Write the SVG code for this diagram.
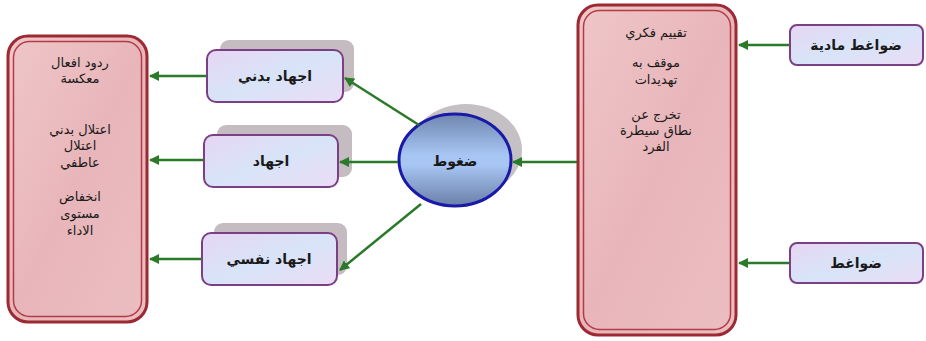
<svg xmlns="http://www.w3.org/2000/svg" width="926" height="341" viewBox="0 0 926 341">
<defs>
<style>
.big-o{fill:url(#pink);stroke:#9c2a32;stroke-width:3}
.big-i{fill:none;stroke:#b23c46;stroke-width:1.5}
.box{fill:url(#lav);stroke:#7b3f86;stroke-width:2}
.shadow{fill:#c4bcc0}
.t{font-family:"DejaVu Sans",sans-serif;fill:#1a1a1a;text-anchor:middle}
.tb{font-size:14px;font-weight:bold}
.ts{font-size:13px}
.conn{stroke:#2a7a2a;stroke-width:2.5;fill:none;marker-end:url(#ah)}
</style>
<linearGradient id="pink" x1="0" y1="0" x2="1" y2="1">
<stop offset="0" stop-color="#efc6c9"/>
<stop offset="0.5" stop-color="#e8b6ba"/>
<stop offset="1" stop-color="#ebbdc1"/>
</linearGradient>
<linearGradient id="lav" x1="0" y1="0" x2="1" y2="1">
<stop offset="0" stop-color="#e6d6f4"/>
<stop offset="0.5" stop-color="#d8e4f8"/>
<stop offset="1" stop-color="#eadcf6"/>
</linearGradient>
<linearGradient id="blue" x1="0" y1="0" x2="0" y2="1">
<stop offset="0" stop-color="#6f86b0"/>
<stop offset="0.45" stop-color="#a8c6f4"/>
<stop offset="0.55" stop-color="#a8c6f4"/>
<stop offset="1" stop-color="#6a7fa8"/>
</linearGradient>
<marker id="ah" viewBox="0 0 10 10" refX="9" refY="5" markerWidth="4" markerHeight="4" orient="auto">
<path d="M0,0 L10,5 L0,10 z" fill="#2a7a2a"/>
</marker>
</defs>

<g id="left-box">
<rect class="big-o" x="8" y="36" width="139" height="286" rx="20"/>
<rect class="big-i" x="13.5" y="41.5" width="128" height="275" rx="16"/>
<text class="t ts" x="80" y="67">ردود افعال</text>
<text class="t ts" x="80" y="83">معكسة</text>
<text class="t ts" x="80" y="134">اعتلال بدني</text>
<text class="t ts" x="80" y="150">اعتلال</text>
<text class="t ts" x="80" y="167">عاطفي</text>
<text class="t ts" x="80" y="201">انخفاض</text>
<text class="t ts" x="80" y="218">مستوى</text>
<text class="t ts" x="80" y="235">الاداء</text>
</g>

<g id="right-box">
<rect class="big-o" x="578" y="5" width="158" height="330" rx="20"/>
<rect class="big-i" x="583.5" y="10.5" width="147" height="319" rx="16"/>
<text class="t ts" x="656" y="37">تقييم فكري</text>
<text class="t ts" x="656" y="67">موقف به</text>
<text class="t ts" x="656" y="84">تهديدات</text>
<text class="t ts" x="656" y="119">تخرج عن</text>
<text class="t ts" x="656" y="135">نطاق سيطرة</text>
<text class="t ts" x="656" y="151">الفرد</text>
</g>

<g id="n-badani">
<rect class="shadow" x="220" y="40" width="134" height="52" rx="9"/>
<rect class="box" x="207" y="50" width="136" height="52" rx="9"/>
<text class="t tb" x="275" y="81">اجهاد بدني</text>
</g>

<g id="n-ijhad">
<rect class="shadow" x="217" y="125" width="135" height="52" rx="9"/>
<rect class="box" x="204" y="135" width="134" height="52" rx="9"/>
<text class="t tb" x="271" y="166">اجهاد</text>
</g>

<g id="n-nafsi">
<rect class="shadow" x="214" y="223" width="133" height="52" rx="9"/>
<rect class="box" x="202" y="233" width="135" height="52" rx="9"/>
<text class="t tb" x="269" y="264">اجهاد نفسي</text>
</g>

<g id="n-stress">
<ellipse cx="466" cy="150" rx="56" ry="46" fill="#c4c0c4"/>
<ellipse cx="455" cy="160" rx="56" ry="46" fill="url(#blue)" stroke="#1a1aa8" stroke-width="3"/>
<text class="t tb" x="455" y="166">ضغوط</text>
</g>

<g id="n-madia">
<rect class="box" x="790" y="25" width="133" height="40" rx="7"/>
<text class="t tb" x="856" y="50">ضواغط مادية</text>
</g>

<g id="n-dawaghit">
<rect class="box" x="790" y="243" width="133" height="40" rx="7"/>
<text class="t tb" x="856" y="268">ضواغط</text>
</g>

<g id="connectors">
<line class="conn" x1="789" y1="45" x2="739" y2="45"/>
<line class="conn" x1="789" y1="263" x2="739" y2="263"/>
<line class="conn" x1="577" y1="162" x2="513" y2="162"/>
<line class="conn" x1="419" y1="125" x2="345" y2="78"/>
<line class="conn" x1="398" y1="162" x2="340" y2="162"/>
<line class="conn" x1="421" y1="204" x2="340" y2="270"/>
<line class="conn" x1="206" y1="76" x2="150" y2="76"/>
<line class="conn" x1="203" y1="160" x2="150" y2="160"/>
<line class="conn" x1="201" y1="259" x2="150" y2="259"/>
</g>
</svg>
